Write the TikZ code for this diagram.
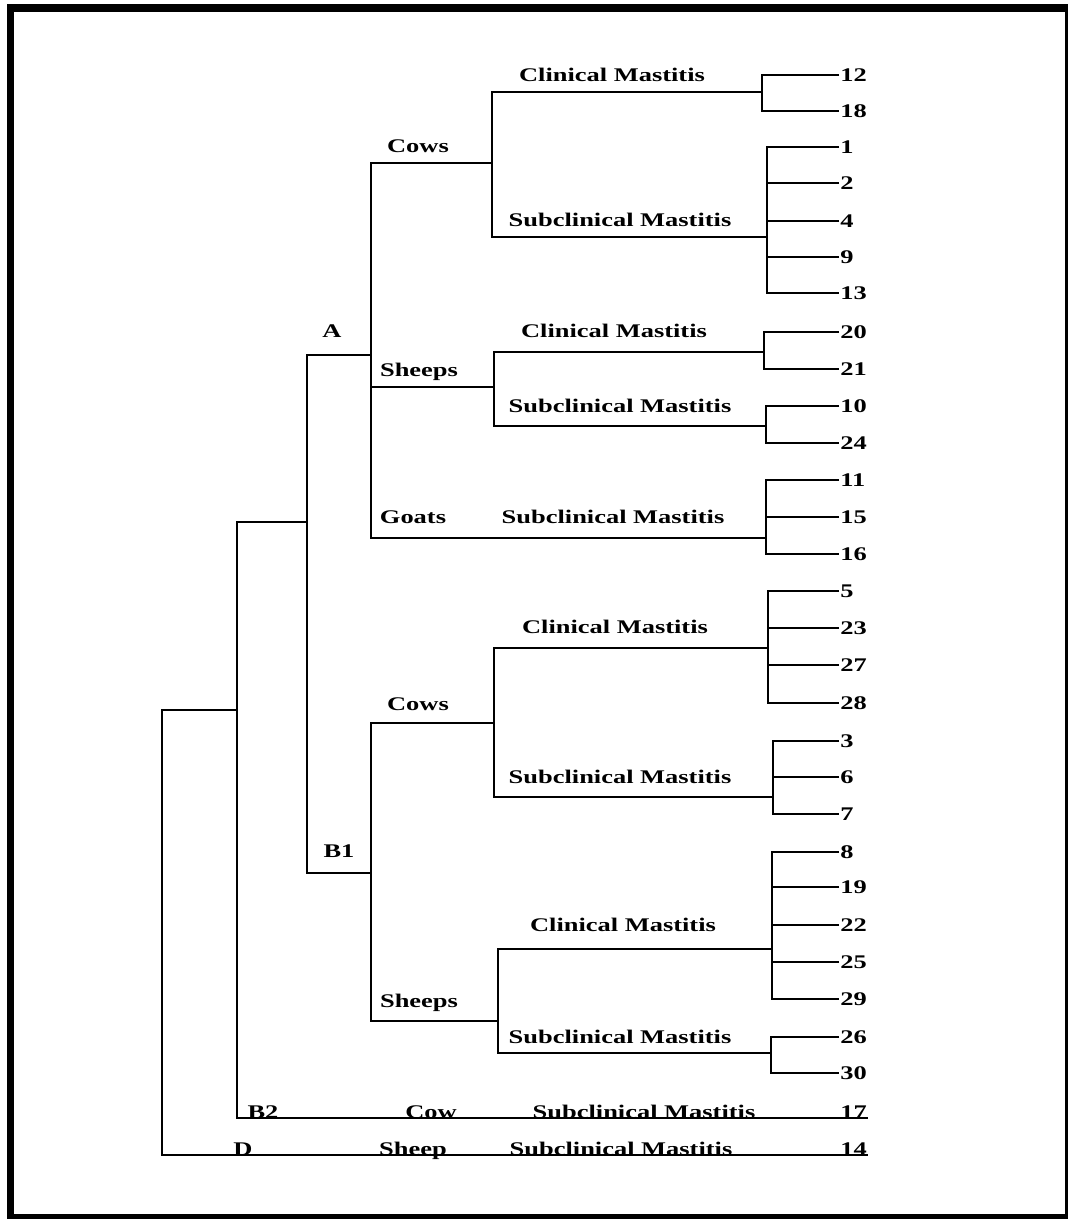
\documentclass[tikz,border=0pt]{standalone}
\usepackage{fontspec}
\setmainfont{Liberation Serif}[FakeStretch=1.37]
\begin{document}
\begin{tikzpicture}[x=1pt,y=-1pt,line width=2.6pt,
  lab/.style={font=\bfseries\fontsize{19.3}{21}\selectfont,inner sep=0pt,anchor=base},
  num/.style={lab,anchor=base west}]
  \useasboundingbox (0,0) rectangle (1073,1219);
  \fill (7,4) rectangle (1068,1219);
  \fill[white] (14,12) rectangle (1065,1214);

  \foreach \n/\y in {12/75,18/111,1/147,2/183,4/221,9/257,13/293,20/332,21/369,10/406,24/443,
      11/480,15/517,16/554,5/591,23/628,27/665,28/703,3/741,6/777,7/814,8/852,19/887,22/925,
      25/962,29/999,26/1037,30/1073}
    \node[num] (l\n) at (839,\y+6.3) {\n};
  \node[num] (l17) at (839,1118) {17};
  \node[num] (l14) at (839,1155) {14};

  \coordinate (gAcc) at (762,92);
  \coordinate (gAcs) at (767,237);
  \coordinate (gAsc) at (764,352);
  \coordinate (gAss) at (766,426);
  \coordinate (gAg)  at (766,538);
  \coordinate (gBcc) at (768,648);
  \coordinate (gBcs) at (773,797);
  \coordinate (gBsc) at (772,949);
  \coordinate (gBss) at (771,1053);
  \coordinate (nAc)  at (492,163);
  \coordinate (nAs)  at (494,387);
  \coordinate (nA)   at (371,355);
  \coordinate (nBc)  at (494,723);
  \coordinate (nBs)  at (498,1021);
  \coordinate (nB1)  at (371,873);
  \coordinate (nAB)  at (307,522);
  \coordinate (nAB2) at (237,710);
  \coordinate (nR)   at (162,710);

  \foreach \g/\a/\b in {gAcc/12/18,gAcs/1/13,gAsc/20/21,gAss/10/24,gAg/11/16,
      gBcc/5/28,gBcs/3/7,gBsc/8/29,gBss/26/30}
    \draw (l\a.west) -| (\g) |- (l\b.west);
  \foreach \g/\n in {gAcs/2,gAcs/4,gAcs/9,gAg/15,gBcc/23,gBcc/27,gBcs/6,gBsc/19,gBsc/22,gBsc/25}
    \draw (l\n.west) -- (l\n.west -| \g);

  \draw (gAcc) -| (nAc) |- (gAcs);
  \draw (gAsc) -| (nAs) |- (gAss);
  \draw (nAc) -| (nA) |- (gAg);
  \draw (nAs) -- (nAs -| nA);
  \draw (gBcc) -| (nBc) |- (gBcs);
  \draw (gBsc) -| (nBs) |- (gBss);
  \draw (nBc) -| (nB1) |- (nBs);
  \draw (nA) -| (nAB) |- (nB1);
  \draw (nAB) -| (nAB2) |- (l17.base east);
  \draw (nAB2) -- (nR) |- (l14.base east);

  \node[lab] (tA)  at (332,337)  {A};
  \node[lab] (tB1) at (339,857)  {B1};
  \node[lab] (tB2) at (263,1118) {B2};
  \node[lab] (tD)  at (243,1155) {D};
  \node[lab] (tAc) at (418,152)  {Cows};
  \node[lab] (tAs) at (419,376)  {Sheeps};
  \node[lab] (tAg) at (413,523)  {Goats};
  \node[lab] (tBc) at (418,710)  {Cows};
  \node[lab] (tBs) at (419,1007) {Sheeps};
  \node[lab] (tB2c) at (431,1118) {Cow};
  \node[lab] (tDs) at (413,1155) {Sheep};
  \foreach \t/\x/\y in {Acc/612/81,Asc/614/337,Bcc/615/633,Bsc/623/931}
    \node[lab] (t\t) at (\x,\y) {Clinical Mastitis};
  \foreach \t/\x/\y in {Acs/620/226,Ass/620/412,Ags/613/523,Bcs/620/783,Bss/620/1043,
      B2s/644/1118,Dss/621/1155}
    \node[lab] (t\t) at (\x,\y) {Subclinical Mastitis};
\end{tikzpicture}
\end{document}
